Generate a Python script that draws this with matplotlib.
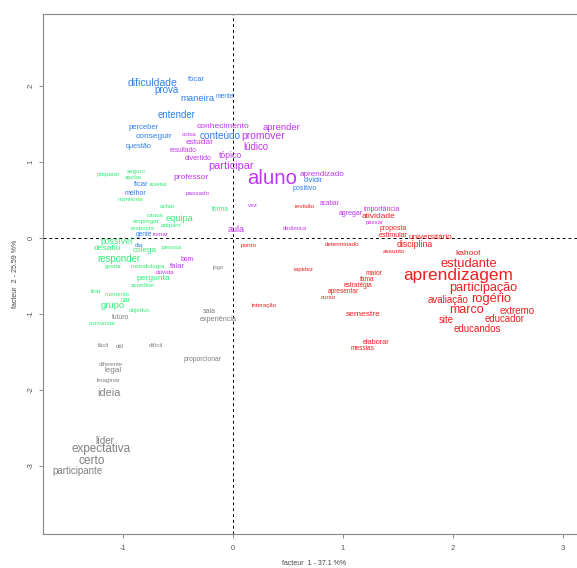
import matplotlib
matplotlib.use("Agg")
import matplotlib.pyplot as plt

plt.rcParams['font.family'] = ['Liberation Sans', 'DejaVu Sans']
plt.rcParams['axes.unicode_minus'] = False

# classe 1 (azul)
azul_pal = ["dificuldade", "prova", "focar", "maneira", "mente", "entender", "perceber",
            "conseguir", "questão", "conteúdo", "ficar", "melhor", "gente", "dia",
            "positivo", "dividir"]
azul_x = [-0.727, -0.60, -0.336, -0.327, -0.073, -0.509, -0.809, -0.718, -0.855, -0.118,
          -0.836, -0.891, -0.809, -0.855, 0.655, 0.727]
azul_y = [2.04, 1.95, 2.08, 1.83, 1.86, 1.62, 1.46, 1.34, 1.20, 1.34, 0.71, 0.58, 0.04,
          -0.105, 0.645, 0.75]
azul_chi2 = [35, 30, 15, 28, 8, 29, 15, 20, 13, 32, 16, 11, 8, 5, 11, 13]

# classe 2 (magenta)
mag_pal = ["conhecimento", "aprender", "promover", "coisa", "estudar", "lúdico", "resultado",
           "divertido", "tópico", "participar", "aluno", "aprendizado", "professor",
           "passado", "vez", "acabar", "aula", "dinâmica", "agregar", "importância",
           "passar", "bom", "falar", "dúvida", "tomar"]
mag_x = [-0.091, 0.445, 0.273, -0.40, -0.30, 0.209, -0.455, -0.318, -0.027, -0.018, 0.355,
         0.809, -0.382, -0.318, 0.182, 0.882, 0.027, 0.564, 1.073, 1.355, 1.291, -0.418,
         -0.509, -0.618, -0.655]
mag_y = [1.47, 1.46, 1.34, 1.355, 1.25, 1.20, 1.145, 1.05, 1.08, 0.95, 0.78, 0.84, 0.79,
         0.59, 0.43, 0.45, 0.105, 0.12, 0.32, 0.37, 0.21, -0.28, -0.37, -0.46, 0.04]
mag_chi2 = [20, 28, 35, 5, 20, 29, 7, 11, 22, 39, 107, 19, 20, 6, 6, 7, 24, 3, 10, 10,
            3, 9, 15, 6, 5]

# classe 3 (verde)
verde_pal = ["preparar", "seguro", "ajudar", "aceitar", "monitoria", "achar", "forma",
             "causa", "equipa", "empregar", "adquirir", "resposta", "possível", "desafio",
             "colega", "pessoa", "responder", "gostar", "metodologia", "pergunta",
             "acreditar", "tirar", "momento", "dar", "grupo", "objetivo", "conversar"]
verde_x = [-1.136, -0.882, -0.909, -0.682, -0.936, -0.591, -0.118, -0.709, -0.482, -0.791,
           -0.564, -0.818, -1.055, -1.145, -0.80, -0.555, -1.036, -1.091, -0.773, -0.727,
           -0.818, -1.245, -1.055, -0.973, -1.091, -0.845, -1.191]
verde_y = [0.84, 0.87, 0.79, 0.71, 0.51, 0.41, 0.38, 0.30, 0.26, 0.22, 0.16, 0.12, -0.05,
           -0.145, -0.17, -0.13, -0.28, -0.37, -0.37, -0.53, -0.62, -0.71, -0.74, -0.82,
           -0.895, -0.96, -1.12]
verde_chi2 = [5, 5, 5, 5, 5, 5, 8, 5, 27, 5, 5, 5, 22, 21, 19, 5, 29, 4, 5, 21, 5, 5, 3,
              10, 28, 5, 5]

# classe 4 (cinza)
cinza_pal = ["futuro", "jogo", "sala", "experiência", "fácil", "útil", "difícil",
             "proporcionar", "diferente", "legal", "imaginar", "ideia", "líder",
             "expectativa", "certo", "participante"]
cinza_x = [-1.018, -0.136, -0.218, -0.136, -1.173, -1.027, -0.70, -0.273, -1.109, -1.091,
           -1.136, -1.127, -1.164, -1.20, -1.282, -1.418]
cinza_y = [-1.05, -0.39, -0.97, -1.07, -1.42, -1.43, -1.42, -1.605, -1.66, -1.74, -1.88,
           -2.04, -2.67, -2.78, -2.93, -3.07]
cinza_chi2 = [9, 3, 10, 12, 5, 5, 5, 9, 5, 19, 5, 38, 30, 44, 46, 30]

# classe 5 (vermelho)
verm_pal = ["revisão", "proposta", "estimular", "universitário", "disciplina", "assunto",
            "determinado", "ponto", "atividade", "rapidez", "maior", "fama", "estratégia",
            "apresentar", "curso", "interação", "semestre", "elaborar", "messias",
            "kahoot", "estudante", "aprendizagem", "participação", "avaliação", "rogério",
            "marco", "extremo", "site", "educador", "educandos"]
verm_x = [0.655, 1.455, 1.455, 1.791, 1.655, 1.464, 0.991, 0.145, 1.327, 0.645, 1.282,
          1.218, 1.136, 1.0, 0.864, 0.282, 1.182, 1.30, 1.173, 2.136, 2.145, 2.045, 2.273,
          1.955, 2.345, 2.127, 2.582, 1.936, 2.473, 2.218]
verm_y = [0.42, 0.12, 0.03, 0.0, -0.08, -0.18, -0.08, -0.105, 0.28, -0.42, -0.47, -0.55,
          -0.63, -0.71, -0.78, -0.895, -1.01, -1.38, -1.46, -0.20, -0.34, -0.49, -0.66,
          -0.82, -0.80, -0.95, -0.96, -1.08, -1.07, -1.20]
verm_chi2 = [5, 10, 11, 19, 23, 6, 5, 6, 20, 4, 9, 7, 7, 7, 5, 4, 21, 13, 7, 20, 53, 84,
             51, 30, 53, 50, 30, 29, 29, 30]

classes = [
    (azul_pal, azul_x, azul_y, azul_chi2, "#2f7ff0"),
    (mag_pal, mag_x, mag_y, mag_chi2, "#c235f0"),
    (verde_pal, verde_x, verde_y, verde_chi2, "#33ee77"),
    (cinza_pal, cinza_x, cinza_y, cinza_chi2, "#808080"),
    (verm_pal, verm_x, verm_y, verm_chi2, "#f01e1e"),
]

fig = plt.figure(figsize=(5.77, 5.68), dpi=100)
ax = fig.add_axes([43/577, 1-534/568, 542/577, 520/568])
ax.set_xlim(-1.727, 3.2)
ax.set_ylim(-3.895, 2.947)

ax.axhline(0, color='black', lw=0.7, ls=(0, (3, 3)), zorder=1)
ax.axvline(0, color='black', lw=0.7, ls=(0, (3, 3)), zorder=1)

for pal, xs, ys, chi2, cor in classes:
    for p, x, y, c in zip(pal, xs, ys, chi2):
        ax.text(x, y, p, color=cor, fontsize=4 + c / 10, ha='center', va='center', zorder=3)

for s in ['left', 'bottom', 'top']:
    ax.spines[s].set_color('#888888')
    ax.spines[s].set_linewidth(0.8)
ax.spines['right'].set_visible(False)

ax.set_xticks([-1, 0, 1, 2, 3])
ax.set_yticks([-3, -2, -1, 0, 1, 2])
ax.tick_params(length=3, width=0.6, color='#777777', labelsize=5.5, labelcolor='#555555', pad=5)
ax.tick_params(axis='y', pad=3)
for lab in ax.get_yticklabels():
    lab.set_rotation(90)
    lab.set_va('center')

ax.set_xlabel("facteur  1 - 37.1 %%", fontsize=5, color='#444444', labelpad=6)
ax.set_ylabel("facteur  2 - 25.59 %%", fontsize=5, color='#444444', labelpad=6)

fig.savefig("out.png", dpi=100)
